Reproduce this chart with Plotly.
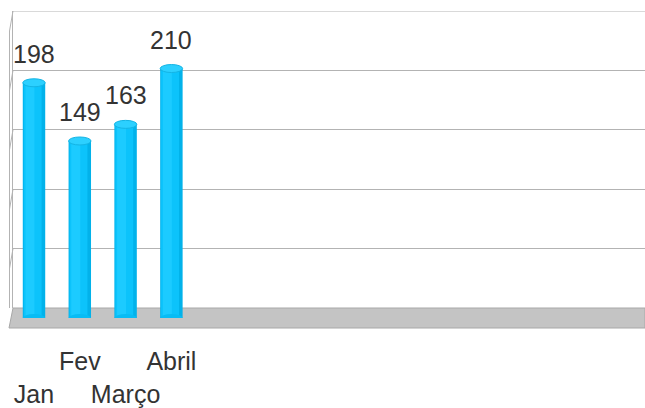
import plotly.graph_objects as go

# ---- data ----
categories = ["Jan", "Fev", "Março", "Abril"]
values = [198, 149, 163, 210]
grid_ticks = [0, 50, 100, 150, 200, 250]

W, H = 645, 408
FONT = "Liberation Sans, Arial, sans-serif"
TXT = "#333333"
GRID = "#b3b3b3"

# geometry (pixels in the screenshot)
bar_x_left, wall_x_left = 9, 13
bar_zero_px, wall_zero_px = 318, 308
px_per_unit = 1.188
slot_px = 45.8
first_center_px = 34
bar_w = 0.49
ymax = 250

def px(p):
    return p / W

def py(p):
    return 1 - p / H

wall_top_px = wall_zero_px - ymax * px_per_unit
bar_top_px = bar_zero_px - ymax * px_per_unit
xr0 = -(first_center_px - bar_x_left) / slot_px
xr1 = (W - first_center_px) / slot_px

ticktext = [("<br>" + c) if i % 2 == 0 else c for i, c in enumerate(categories)]

fig = go.Figure()
# back wall axes (x/y) - only grid
fig.add_trace(go.Scatter(x=[], y=[], xaxis="x", yaxis="y", showlegend=False, hoverinfo="skip"))

# cylinder body (base + left highlight + right shade)
fig.add_trace(go.Bar(x=categories, y=values, width=bar_w, marker=dict(color="#02b2ea", line=dict(width=0)),
                     xaxis="x2", yaxis="y2", showlegend=False))
fig.add_trace(go.Bar(x=categories, y=values, width=bar_w * 0.80, offset=-bar_w / 2 + bar_w * 0.04,
                     marker=dict(color="#0cc3fb", line=dict(width=0)),
                     xaxis="x2", yaxis="y2", showlegend=False))
fig.add_trace(go.Bar(x=categories, y=values, width=bar_w * 0.40, offset=-bar_w / 2 + bar_w * 0.12,
                     marker=dict(color="#1ccbff", line=dict(width=0)),
                     xaxis="x2", yaxis="y2", showlegend=False))

eh = 4 / px_per_unit
shapes = []
# floor
shapes.append(dict(type="path", xref="paper", yref="paper", layer="below",
                   path=f"M {px(wall_x_left)},{py(wall_zero_px)} L 1,{py(wall_zero_px)} L 1,{py(wall_zero_px+20)} L {px(bar_x_left)},{py(wall_zero_px+20)} Z",
                   fillcolor="#c4c4c4", line=dict(color="#a8a8a8", width=1)))
# top edge of the back wall
shapes.append(dict(type="line", xref="paper", yref="y", layer="below",
                   x0=px(wall_x_left), x1=1, y0=ymax, y1=ymax, line=dict(color=GRID, width=1)))
# left side wall
for t in grid_ticks:
    shapes.append(dict(type="line", xref="paper", yref="y", layer="below",
                       x0=px(wall_x_left), x1=px(bar_x_left + 0.5), y0=t, y1=t - 20 / px_per_unit,
                       line=dict(color=GRID, width=1)))
shapes.append(dict(type="line", xref="paper", yref="y", layer="below",
                   x0=px(bar_x_left + 0.5), x1=px(bar_x_left + 0.5), y0=0 - 20 / px_per_unit,
                   y1=ymax - 20 / px_per_unit, line=dict(color=GRID, width=1)))
# cylinder ends
for i, v in enumerate(values):
    shapes.append(dict(type="circle", xref="x2", yref="y2", layer="above",
                       x0=i - bar_w / 2, x1=i + bar_w / 2, y0=-eh, y1=eh,
                       fillcolor="#08bcf4", line=dict(width=0)))
    shapes.append(dict(type="circle", xref="x2", yref="y2", layer="above",
                       x0=i - bar_w / 2, x1=i + bar_w / 2, y0=v - eh, y1=v + eh,
                       fillcolor="#2cd0ff", line=dict(color="#14b4e4", width=1)))

annotations = []
for c, v in zip(categories, values):
    annotations.append(dict(x=c, y=v, xref="x2", yref="y2", text=str(v), showarrow=False,
                            yanchor="bottom", yshift=13,
                            font=dict(family=FONT, size=25, color=TXT)))

fig.update_layout(
    width=W, height=H,
    margin=dict(l=0, r=0, t=0, b=0, autoexpand=False),
    paper_bgcolor="white", plot_bgcolor="rgba(0,0,0,0)",
    barmode="overlay",
    showlegend=False,
    shapes=shapes,
    annotations=annotations,
    xaxis=dict(domain=[px(wall_x_left), 1], range=[0, 1], showgrid=False, zeroline=False,
               showticklabels=False, showline=False, anchor="y", automargin=False),
    yaxis=dict(domain=[py(wall_zero_px), py(wall_top_px)], range=[0, ymax], tickvals=grid_ticks,
               showgrid=True, gridcolor=GRID, gridwidth=1, zeroline=False, showticklabels=False,
               showline=True, linecolor=GRID, linewidth=1, anchor="x", automargin=False),
    xaxis2=dict(domain=[px(bar_x_left), 1], range=[xr0, xr1], type="category",
                categoryorder="array", categoryarray=categories,
                tickvals=categories, ticktext=ticktext, tickangle=0, automargin=False,
                ticks="outside", ticklen=21, tickcolor="rgba(0,0,0,0)",
                tickfont=dict(family=FONT, size=25, color=TXT),
                showgrid=False, zeroline=False, showline=False, anchor="y2"),
    yaxis2=dict(domain=[py(bar_zero_px), py(bar_top_px)], range=[0, ymax], showgrid=False,
                zeroline=False, showticklabels=False, showline=False, anchor="x2", automargin=False),
)

fig.write_html("out.html", config={"displayModeBar": False},
               post_script="document.body.style.margin='0';document.body.style.overflow='hidden';")
